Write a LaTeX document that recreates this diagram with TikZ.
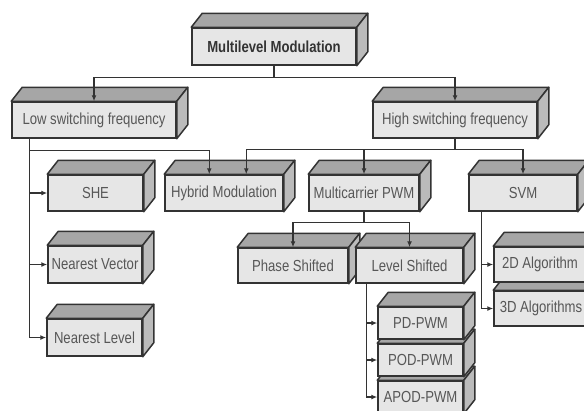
\documentclass[tikz,border=0pt]{standalone}
\usepackage{fontspec}
\setmainfont{Liberation Sans}
\newfontfamily\boxfont[FakeStretch=0.82]{Liberation Sans}
\usetikzlibrary{calc,arrows.meta}

\definecolor{frontc}{HTML}{E6E6E6}
\definecolor{topc}{HTML}{A6A6A6}
\definecolor{sidec}{HTML}{BBBBBB}
\definecolor{edgec}{HTML}{333333}
\definecolor{textc}{HTML}{575757}
\definecolor{titlec}{HTML}{333333}

\tikzset{
  front/.style={draw=edgec, line width=1.5bp, fill=frontc, inner sep=0pt, text=textc,
    font=\boxfont\fontsize{16bp}{18bp}\selectfont},
  titlebox/.style={front, text=titlec, font=\boxfont\bfseries\fontsize{16bp}{18bp}\selectfont},
  topface/.style={draw=edgec, line width=1.5bp, fill=topc, line join=round},
  sideface/.style={draw=edgec, line width=1.5bp, fill=sidec, line join=round},
  conn/.style={draw=edgec, line width=1.4bp},
  arr/.style={conn, -{Latex[length=6bp,width=5bp]}},
}

\newcommand\depthfaces[1]{%
  \path[topface] (#1.north west) -- ++(11,-14) -- ($(#1.north east)+(11,-14)$) -- (#1.north east) -- cycle;
  \path[sideface] (#1.north east) -- ++(11,-14) -- ($(#1.south east)+(11,-14)$) -- (#1.south east) -- cycle;}

% name, cx, cy, width, height, text
\newcommand\cubenode[6]{%
  \node[front, minimum width=#4bp, minimum height=#5bp] (#1) at (#2,#3) {#6};
  \depthfaces{#1}}

\begin{document}
\begin{tikzpicture}[x=1bp,y=-1bp]
\fill[white] (0,0) rectangle (584,410);
\useasboundingbox (0,0) rectangle (584,410);

% title box
\node[titlebox, minimum width=164bp, minimum height=37bp] (mm) at (274,46.5) {Multilevel Modulation};
\depthfaces{mm}

\cubenode{low}{94}{120}{164}{36}{Low switching frequency}
\cubenode{high}{455}{120}{164}{36}{High switching frequency}

\cubenode{she}{95.5}{193}{95}{36}{SHE}
\cubenode{hyb}{224}{193}{118}{36}{Hybrid Modulation}
\cubenode{mc}{364}{193}{110}{36}{Multicarrier PWM}
\cubenode{svm}{523}{193}{108}{36}{SVM}

\cubenode{nv}{95}{264.5}{94}{37}{Nearest Vector}
\cubenode{nl}{94.5}{337.5}{95}{37}{Nearest Level}

\cubenode{ps}{293}{265.5}{110}{35}{Phase Shifted}
\cubenode{ls}{409.5}{265.5}{107}{35}{Level Shifted}

\cubenode{algc}{541}{308.5}{94}{35}{3D Algorithms}
\cubenode{algb}{540}{264.5}{92}{35}{2D Algorithm}

\cubenode{apod}{420.5}{397}{85}{32}{APOD-PWM}
\cubenode{pod}{420.5}{360}{85}{32}{POD-PWM}
\cubenode{pd}{420.5}{323}{85}{32}{PD-PWM}

% connectors
\draw[arr] (mm.south) -- ++(0,12) -| (low.north);
\draw[arr] (mm.south) -- ++(0,12) -| (high.north);

\coordinate (lowtap) at ([xshift=18bp]low.south west);
\draw[arr] (lowtap) |- (she.west);
\draw[arr] (lowtap) |- (nv.west);
\draw[arr] (lowtap) |- (nl.west);
\draw[arr] (lowtap) -- ++(0,12) -| ([xshift=45bp]hyb.north west);

\draw[arr] (high.south) -- ++(0,11) -| ([xshift=82bp]hyb.north west);
\draw[arr] (high.south) -- ++(0,11) -| (mc.north);
\draw[arr] (high.south) -- ++(0,11) -| (svm.north);

\draw[arr] (mc.south) -- ++(0,11) -| (ps.north);
\draw[arr] (mc.south) -- ++(0,11) -| (ls.north);

\coordinate (svmtap) at ([xshift=13bp]svm.south west);
\draw[arr] (svmtap) |- (algb.west);
\draw[arr] (svmtap) |- (algc.west);

\coordinate (lstap) at ([xshift=11bp]ls.south west);
\draw[arr] (lstap) |- (pd.west);
\draw[arr] (lstap) |- (pod.west);
\draw[arr] (lstap) |- (apod.west);
\end{tikzpicture}
\end{document}
